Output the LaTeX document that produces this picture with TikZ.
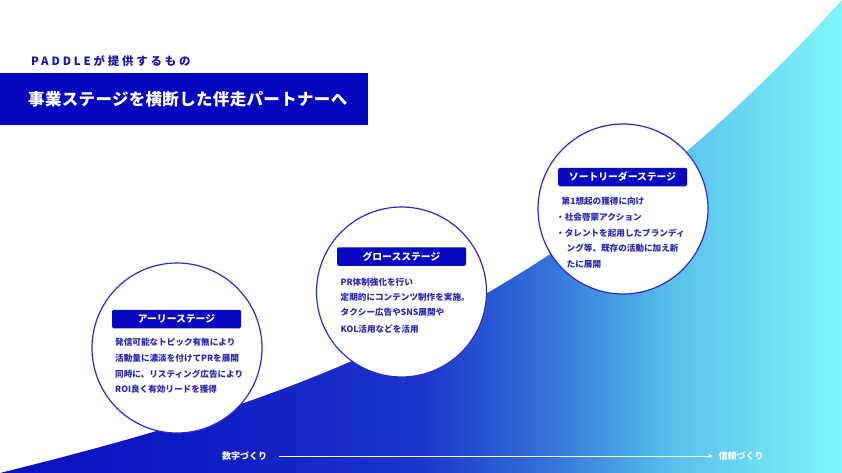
\documentclass[tikz,border=0pt]{standalone}
\usepackage{fontspec}
\setmainfont{Noto Sans CJK JP}
\usetikzlibrary{arrows.meta}
\definecolor{g0}{HTML}{0A10BE}
\definecolor{g1}{HTML}{1220C4}
\definecolor{g2}{HTML}{1C36CC}
\definecolor{g3}{HTML}{3272D8}
\definecolor{g4}{HTML}{58C2EC}
\definecolor{g5}{HTML}{7EF6F8}
\definecolor{boxblue}{HTML}{0505BF}
\definecolor{labelblue}{HTML}{0808C2}
\definecolor{circblue}{HTML}{2B2BCB}
\definecolor{bodyblue}{HTML}{2828B5}
\definecolor{subblue}{HTML}{1414B4}
\pgfdeclarehorizontalshading{curveshade}{100bp}{color(0bp)=(g0); color(25bp)=(g0); color(40bp)=(g1); color(50bp)=(g2); color(57.5bp)=(g3); color(65bp)=(g4); color(75bp)=(g5); color(100bp)=(g5)}
\tikzset{
  stagecircle/.style={circle, draw=circblue, fill=white, line width=1.2pt, minimum size=170pt, inner sep=0pt},
  stagelabel/.style={fill=labelblue, rounded corners=1.5pt, minimum width=129pt, minimum height=18.5pt, inner sep=0pt, text=white, font=\bfseries\fontsize{9.8}{11}\selectfont},
  bodytext/.style={anchor=west, inner sep=0pt, text=bodyblue, font=\bfseries\fontsize{8.6}{10}\selectfont},
  axislabel/.style={anchor=west, inner sep=0pt, text=white, font=\bfseries\fontsize{9}{10}\selectfont},
}
\begin{document}
\begin{tikzpicture}[x=1pt,y=-1pt]
\useasboundingbox (0,0) rectangle (842,473);
\fill[white] (0,0) rectangle (842,473);
% gradient curve
\shade[shading=curveshade] (0,473) .. controls (289,401) and (553,318) .. (842,0) -- (842,473) -- cycle;
% header
\node[anchor=west, inner sep=0pt, text=subblue, font=\bfseries\fontsize{11.4}{13}\selectfont\addfontfeatures{LetterSpace=25}] (sub) at (31,61) {PADDLEが提供するもの};
\node[anchor=north west, fill=boxblue, minimum width=368pt, minimum height=52pt, inner sep=0pt] (hdrbox) at (0,73) {};
\node[anchor=west, inner sep=0pt, text=white, font=\bfseries\fontsize{16.5}{18}\selectfont\addfontfeatures{LetterSpace=2}] (title) at (28,99.5) {事業ステージを横断した伴走パートナーへ};
% circles
\node[stagecircle] (c1) at (177,348) {};
\node[stagecircle] (c2) at (401.5,292) {};
\node[stagecircle] (c3) at (623,209) {};
% labels
\node[stagelabel] (l1) at (176.5,319) {アーリーステージ};
\node[stagelabel] (l2) at (401.5,256.5) {グロースステージ};
\node[stagelabel] (l3) at (622.5,177) {ソートリーダーステージ};
% early body
\node[bodytext] (e1) at (115,342) {発信可能なトピック有無により};
\node[bodytext] (e2) at (115,358) {活動量に濃淡を付けてPRを展開};
\node[bodytext] (e3) at (115,374) {同時に、リスティング広告により};
\node[bodytext] (e4) at (115,389.5) {ROI良く有効リードを獲得};
% growth body
\node[bodytext] (g1n) at (340.5,282) {PR体制強化を行い};
\node[bodytext] (g2n) at (340.5,297.5) {定期的にコンテンツ制作を実施。};
\node[bodytext] (g3n) at (340.5,312.5) {タクシー広告やSNS展開や};
\node[bodytext] (g4n) at (340.5,329) {KOL活用などを活用};
% leader body
\node[bodytext] (t1) at (561.5,201) {第1想起の獲得に向け};
\node[bodytext] (t2) at (556,217) {・社会啓蒙アクション};
\node[bodytext] (t3) at (556,233) {・タレントを起用したブランディ};
\node[bodytext] (t4) at (566.5,248.5) {ング等、既存の活動に加え新};
\node[bodytext] (t5) at (566.5,264.5) {たに展開};
% axis
\node[axislabel] (a1) at (222,456) {数字づくり};
\node[axislabel] (a2) at (718.5,456) {信頼づくり};
\draw[white, line width=0.9pt, shorten <=12pt, shorten >=6pt, -{Stealth[length=4.5pt, width=4.5pt]}] (a1) -- (a2);
\end{tikzpicture}
\end{document}
